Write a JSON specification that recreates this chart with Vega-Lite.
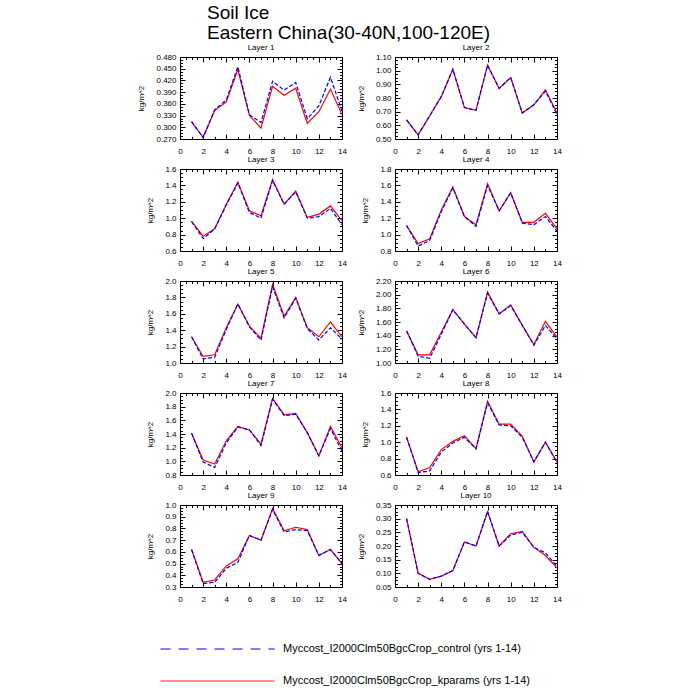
{
"$schema":"https://vega.github.io/schema/vega-lite/v6.json",
"padding":{"left":137,"top":4,"right":5,"bottom":5},
"background":"white",
"title":{"text":["Soil Ice","Eastern China(30-40N,100-120E)"],"anchor":"start","frame":"group","fontSize":19,"lineHeight":20,"dx":27,"offset":1,"font":"Liberation Sans","fontWeight":"normal","color":"black"},
"data":{"values":[
{"l":1,"x":1,"k":0.313,"c":0.315},{"l":1,"x":2,"k":0.275,"c":0.273},{"l":1,"x":3,"k":0.343,"c":0.345},{"l":1,"x":4,"k":0.365,"c":0.370},{"l":1,"x":5,"k":0.447,"c":0.455},{"l":1,"x":6,"k":0.330,"c":0.332},{"l":1,"x":7,"k":0.298,"c":0.312},{"l":1,"x":8,"k":0.405,"c":0.418},{"l":1,"x":9,"k":0.382,"c":0.395},{"l":1,"x":10,"k":0.400,"c":0.415},{"l":1,"x":11,"k":0.310,"c":0.322},{"l":1,"x":12,"k":0.340,"c":0.355},{"l":1,"x":13,"k":0.398,"c":0.428},{"l":1,"x":14,"k":0.333,"c":0.342},
{"l":2,"x":1,"k":0.64,"c":0.64},{"l":2,"x":2,"k":0.53,"c":0.53},{"l":2,"x":3,"k":0.67,"c":0.67},{"l":2,"x":4,"k":0.81,"c":0.81},{"l":2,"x":5,"k":1.01,"c":1.01},{"l":2,"x":6,"k":0.73,"c":0.73},{"l":2,"x":7,"k":0.71,"c":0.71},{"l":2,"x":8,"k":1.04,"c":1.04},{"l":2,"x":9,"k":0.87,"c":0.87},{"l":2,"x":10,"k":0.95,"c":0.95},{"l":2,"x":11,"k":0.69,"c":0.69},{"l":2,"x":12,"k":0.75,"c":0.75},{"l":2,"x":13,"k":0.86,"c":0.85},{"l":2,"x":14,"k":0.69,"c":0.68},
{"l":3,"x":1,"k":0.96,"c":0.96},{"l":3,"x":2,"k":0.78,"c":0.75},{"l":3,"x":3,"k":0.87,"c":0.87},{"l":3,"x":4,"k":1.17,"c":1.16},{"l":3,"x":5,"k":1.44,"c":1.43},{"l":3,"x":6,"k":1.09,"c":1.07},{"l":3,"x":7,"k":1.03,"c":1.00},{"l":3,"x":8,"k":1.47,"c":1.46},{"l":3,"x":9,"k":1.17,"c":1.17},{"l":3,"x":10,"k":1.33,"c":1.32},{"l":3,"x":11,"k":1.01,"c":1.00},{"l":3,"x":12,"k":1.05,"c":1.02},{"l":3,"x":13,"k":1.15,"c":1.12},{"l":3,"x":14,"k":0.97,"c":0.92},
{"l":4,"x":1,"k":1.11,"c":1.11},{"l":4,"x":2,"k":0.89,"c":0.86},{"l":4,"x":3,"k":0.95,"c":0.93},{"l":4,"x":4,"k":1.30,"c":1.28},{"l":4,"x":5,"k":1.58,"c":1.57},{"l":4,"x":6,"k":1.22,"c":1.22},{"l":4,"x":7,"k":1.12,"c":1.10},{"l":4,"x":8,"k":1.62,"c":1.60},{"l":4,"x":9,"k":1.29,"c":1.29},{"l":4,"x":10,"k":1.51,"c":1.51},{"l":4,"x":11,"k":1.15,"c":1.14},{"l":4,"x":12,"k":1.15,"c":1.12},{"l":4,"x":13,"k":1.26,"c":1.22},{"l":4,"x":14,"k":1.07,"c":1.04},
{"l":5,"x":1,"k":1.32,"c":1.32},{"l":5,"x":2,"k":1.08,"c":1.05},{"l":5,"x":3,"k":1.10,"c":1.07},{"l":5,"x":4,"k":1.43,"c":1.41},{"l":5,"x":5,"k":1.72,"c":1.72},{"l":5,"x":6,"k":1.45,"c":1.44},{"l":5,"x":7,"k":1.30,"c":1.28},{"l":5,"x":8,"k":1.96,"c":1.93},{"l":5,"x":9,"k":1.57,"c":1.55},{"l":5,"x":10,"k":1.80,"c":1.79},{"l":5,"x":11,"k":1.43,"c":1.42},{"l":5,"x":12,"k":1.32,"c":1.28},{"l":5,"x":13,"k":1.50,"c":1.43},{"l":5,"x":14,"k":1.32,"c":1.29},
{"l":6,"x":1,"k":1.47,"c":1.47},{"l":6,"x":2,"k":1.12,"c":1.10},{"l":6,"x":3,"k":1.12,"c":1.07},{"l":6,"x":4,"k":1.45,"c":1.42},{"l":6,"x":5,"k":1.78,"c":1.78},{"l":6,"x":6,"k":1.57,"c":1.57},{"l":6,"x":7,"k":1.37,"c":1.37},{"l":6,"x":8,"k":2.04,"c":2.02},{"l":6,"x":9,"k":1.72,"c":1.72},{"l":6,"x":10,"k":1.85,"c":1.84},{"l":6,"x":11,"k":1.55,"c":1.55},{"l":6,"x":12,"k":1.27,"c":1.26},{"l":6,"x":13,"k":1.61,"c":1.55},{"l":6,"x":14,"k":1.38,"c":1.35},
{"l":7,"x":1,"k":1.41,"c":1.41},{"l":7,"x":2,"k":1.02,"c":0.99},{"l":7,"x":3,"k":0.96,"c":0.91},{"l":7,"x":4,"k":1.30,"c":1.27},{"l":7,"x":5,"k":1.51,"c":1.50},{"l":7,"x":6,"k":1.46,"c":1.46},{"l":7,"x":7,"k":1.25,"c":1.23},{"l":7,"x":8,"k":1.92,"c":1.91},{"l":7,"x":9,"k":1.68,"c":1.67},{"l":7,"x":10,"k":1.70,"c":1.69},{"l":7,"x":11,"k":1.42,"c":1.42},{"l":7,"x":12,"k":1.08,"c":1.08},{"l":7,"x":13,"k":1.51,"c":1.48},{"l":7,"x":14,"k":1.20,"c":1.15},
{"l":8,"x":1,"k":1.06,"c":1.06},{"l":8,"x":2,"k":0.64,"c":0.63},{"l":8,"x":3,"k":0.69,"c":0.65},{"l":8,"x":4,"k":0.91,"c":0.88},{"l":8,"x":5,"k":1.01,"c":0.99},{"l":8,"x":6,"k":1.08,"c":1.06},{"l":8,"x":7,"k":0.92,"c":0.92},{"l":8,"x":8,"k":1.50,"c":1.48},{"l":8,"x":9,"k":1.22,"c":1.21},{"l":8,"x":10,"k":1.22,"c":1.20},{"l":8,"x":11,"k":1.07,"c":1.06},{"l":8,"x":12,"k":0.76,"c":0.76},{"l":8,"x":13,"k":1.00,"c":1.00},{"l":8,"x":14,"k":0.76,"c":0.75},
{"l":9,"x":1,"k":0.62,"c":0.62},{"l":9,"x":2,"k":0.34,"c":0.33},{"l":9,"x":3,"k":0.36,"c":0.34},{"l":9,"x":4,"k":0.48,"c":0.46},{"l":9,"x":5,"k":0.54,"c":0.51},{"l":9,"x":6,"k":0.74,"c":0.74},{"l":9,"x":7,"k":0.70,"c":0.70},{"l":9,"x":8,"k":0.97,"c":0.96},{"l":9,"x":9,"k":0.78,"c":0.77},{"l":9,"x":10,"k":0.81,"c":0.79},{"l":9,"x":11,"k":0.79,"c":0.78},{"l":9,"x":12,"k":0.57,"c":0.57},{"l":9,"x":13,"k":0.62,"c":0.62},{"l":9,"x":14,"k":0.50,"c":0.50},
{"l":10,"x":1,"k":0.30,"c":0.30},{"l":10,"x":2,"k":0.10,"c":0.10},{"l":10,"x":3,"k":0.078,"c":0.078},{"l":10,"x":4,"k":0.09,"c":0.09},{"l":10,"x":5,"k":0.11,"c":0.11},{"l":10,"x":6,"k":0.215,"c":0.215},{"l":10,"x":7,"k":0.20,"c":0.20},{"l":10,"x":8,"k":0.325,"c":0.327},{"l":10,"x":9,"k":0.20,"c":0.20},{"l":10,"x":10,"k":0.245,"c":0.24},{"l":10,"x":11,"k":0.253,"c":0.25},{"l":10,"x":12,"k":0.195,"c":0.195},{"l":10,"x":13,"k":0.165,"c":0.175},{"l":10,"x":14,"k":0.12,"c":0.125}
]},
"columns":2,
"bounds":"flush",
"spacing":{"row":30,"column":53},
"concat":[
{"title":"Layer 1","width":162,"height":82,"transform":[{"filter":"datum.l==1"},{"fold":["k","c"],"as":["s","v"]}],
 "encoding":{"color":{"field":"s","type":"nominal","scale":{"domain":["c","k"],"range":["#0000ff","#ff0000"]},
   "legend":{"orient":"none","legendX":-20,"legendY":586,"title":null,"symbolType":"stroke","symbolSize":12996,"symbolStrokeWidth":1,"clipHeight":12,"rowPadding":20,"labelFontSize":11,"labelFont":"Liberation Sans","labelColor":"black","labelOffset":8,"labelLimit":400,
     "labelExpr":"'Myccost_I2000Clm50BgcCrop_' + (datum.label=='c' ? 'control' : 'kparams') + ' (yrs 1-14)'",
     "encode":{"symbols":{"update":{"strokeDash":{"signal":"datum.value=='c' ? [10,8] : [1,0]"}}}}}}},
 "layer":[
  {"transform":[{"filter":"datum.s=='k'"}],"mark":{"type":"line","strokeWidth":1.2},
   "encoding":{"x":{"field":"x","type":"quantitative","scale":{"domain":[0,14],"nice":false},"axis":{"orient":"bottom","values":[0,0.5,1,1.5,2,2.5,3,3.5,4,4.5,5,5.5,6,6.5,7,7.5,8,8.5,9,9.5,10,10.5,11,11.5,12,12.5,13,13.5,14],"format":"d","title":null,"labelExpr":"abs(datum.value/2-round(datum.value/2))<0.001 ? datum.label : ''","tickSize":{"condition":{"test":"abs(datum.value/2-round(datum.value/2))<0.001","value":-5},"value":-2.5}}},
    "y":{"field":"v","type":"quantitative","scale":{"domain":[0.27,0.48],"nice":false,"zero":false},"axis":{"orient":"left","values":[0.27,0.2775,0.285,0.2925,0.3,0.3075,0.315,0.3225,0.33,0.3375,0.345,0.3525,0.36,0.3675,0.375,0.3825,0.39,0.3975,0.405,0.4125,0.42,0.4275,0.435,0.4425,0.45,0.4575,0.465,0.4725,0.48],"format":".3f","title":"kg/m^2","labelExpr":"abs(datum.value/0.03-round(datum.value/0.03))<0.001 ? datum.label : ''","tickSize":{"condition":{"test":"abs(datum.value/0.03-round(datum.value/0.03))<0.001","value":-5},"value":-2.5}}}}},
  {"transform":[{"filter":"datum.s=='c'"}],"mark":{"type":"line","strokeWidth":1.2,"strokeDash":[4,2]},
   "encoding":{"x":{"field":"x","type":"quantitative","scale":{"domain":[0,14],"nice":false},"axis":{"orient":"top","values":[0,0.5,1,1.5,2,2.5,3,3.5,4,4.5,5,5.5,6,6.5,7,7.5,8,8.5,9,9.5,10,10.5,11,11.5,12,12.5,13,13.5,14],"labels":false,"title":null,"tickSize":{"condition":{"test":"abs(datum.value/2-round(datum.value/2))<0.001","value":-5},"value":-2.5}}},
    "y":{"field":"v","type":"quantitative","scale":{"domain":[0.27,0.48],"nice":false,"zero":false},"axis":{"orient":"right","values":[0.27,0.2775,0.285,0.2925,0.3,0.3075,0.315,0.3225,0.33,0.3375,0.345,0.3525,0.36,0.3675,0.375,0.3825,0.39,0.3975,0.405,0.4125,0.42,0.4275,0.435,0.4425,0.45,0.4575,0.465,0.4725,0.48],"labels":false,"title":null,"tickSize":{"condition":{"test":"abs(datum.value/0.03-round(datum.value/0.03))<0.001","value":-5},"value":-2.5}}}}}
 ],"resolve":{"axis":{"x":"independent","y":"independent"}}},
{"title":"Layer 2","width":162,"height":82,"transform":[{"filter":"datum.l==2"},{"fold":["k","c"],"as":["s","v"]}],
 "encoding":{"color":{"field":"s","type":"nominal","scale":{"domain":["c","k"],"range":["#0000ff","#ff0000"]},"legend":null}},
 "layer":[
  {"transform":[{"filter":"datum.s=='k'"}],"mark":{"type":"line","strokeWidth":1.2},
   "encoding":{"x":{"field":"x","type":"quantitative","scale":{"domain":[0,14],"nice":false},"axis":{"orient":"bottom","values":[0,0.5,1,1.5,2,2.5,3,3.5,4,4.5,5,5.5,6,6.5,7,7.5,8,8.5,9,9.5,10,10.5,11,11.5,12,12.5,13,13.5,14],"format":"d","title":null,"labelExpr":"abs(datum.value/2-round(datum.value/2))<0.001 ? datum.label : ''","tickSize":{"condition":{"test":"abs(datum.value/2-round(datum.value/2))<0.001","value":-5},"value":-2.5}}},
    "y":{"field":"v","type":"quantitative","scale":{"domain":[0.5,1.1],"nice":false,"zero":false},"axis":{"orient":"left","values":[0.5,0.525,0.55,0.575,0.6,0.625,0.65,0.675,0.7,0.725,0.75,0.775,0.8,0.825,0.85,0.875,0.9,0.925,0.95,0.975,1.0,1.025,1.05,1.075,1.1],"format":".2f","title":"kg/m^2","labelExpr":"abs(datum.value/0.1-round(datum.value/0.1))<0.001 ? datum.label : ''","tickSize":{"condition":{"test":"abs(datum.value/0.1-round(datum.value/0.1))<0.001","value":-5},"value":-2.5}}}}},
  {"transform":[{"filter":"datum.s=='c'"}],"mark":{"type":"line","strokeWidth":1.2,"strokeDash":[4,2]},
   "encoding":{"x":{"field":"x","type":"quantitative","scale":{"domain":[0,14],"nice":false},"axis":{"orient":"top","values":[0,0.5,1,1.5,2,2.5,3,3.5,4,4.5,5,5.5,6,6.5,7,7.5,8,8.5,9,9.5,10,10.5,11,11.5,12,12.5,13,13.5,14],"labels":false,"title":null,"tickSize":{"condition":{"test":"abs(datum.value/2-round(datum.value/2))<0.001","value":-5},"value":-2.5}}},
    "y":{"field":"v","type":"quantitative","scale":{"domain":[0.5,1.1],"nice":false,"zero":false},"axis":{"orient":"right","values":[0.5,0.525,0.55,0.575,0.6,0.625,0.65,0.675,0.7,0.725,0.75,0.775,0.8,0.825,0.85,0.875,0.9,0.925,0.95,0.975,1.0,1.025,1.05,1.075,1.1],"labels":false,"title":null,"tickSize":{"condition":{"test":"abs(datum.value/0.1-round(datum.value/0.1))<0.001","value":-5},"value":-2.5}}}}}
 ],"resolve":{"axis":{"x":"independent","y":"independent"}}},
{"title":"Layer 3","width":162,"height":82,"transform":[{"filter":"datum.l==3"},{"fold":["k","c"],"as":["s","v"]}],
 "encoding":{"color":{"field":"s","type":"nominal","scale":{"domain":["c","k"],"range":["#0000ff","#ff0000"]},"legend":null}},
 "layer":[
  {"transform":[{"filter":"datum.s=='k'"}],"mark":{"type":"line","strokeWidth":1.2},
   "encoding":{"x":{"field":"x","type":"quantitative","scale":{"domain":[0,14],"nice":false},"axis":{"orient":"bottom","values":[0,0.5,1,1.5,2,2.5,3,3.5,4,4.5,5,5.5,6,6.5,7,7.5,8,8.5,9,9.5,10,10.5,11,11.5,12,12.5,13,13.5,14],"format":"d","title":null,"labelExpr":"abs(datum.value/2-round(datum.value/2))<0.001 ? datum.label : ''","tickSize":{"condition":{"test":"abs(datum.value/2-round(datum.value/2))<0.001","value":-5},"value":-2.5}}},
    "y":{"field":"v","type":"quantitative","scale":{"domain":[0.6,1.6],"nice":false,"zero":false},"axis":{"orient":"left","values":[0.6,0.65,0.7,0.75,0.8,0.85,0.9,0.95,1.0,1.05,1.1,1.15,1.2,1.25,1.3,1.35,1.4,1.45,1.5,1.55,1.6],"format":".1f","title":"kg/m^2","labelExpr":"abs(datum.value/0.2-round(datum.value/0.2))<0.001 ? datum.label : ''","tickSize":{"condition":{"test":"abs(datum.value/0.2-round(datum.value/0.2))<0.001","value":-5},"value":-2.5}}}}},
  {"transform":[{"filter":"datum.s=='c'"}],"mark":{"type":"line","strokeWidth":1.2,"strokeDash":[4,2]},
   "encoding":{"x":{"field":"x","type":"quantitative","scale":{"domain":[0,14],"nice":false},"axis":{"orient":"top","values":[0,0.5,1,1.5,2,2.5,3,3.5,4,4.5,5,5.5,6,6.5,7,7.5,8,8.5,9,9.5,10,10.5,11,11.5,12,12.5,13,13.5,14],"labels":false,"title":null,"tickSize":{"condition":{"test":"abs(datum.value/2-round(datum.value/2))<0.001","value":-5},"value":-2.5}}},
    "y":{"field":"v","type":"quantitative","scale":{"domain":[0.6,1.6],"nice":false,"zero":false},"axis":{"orient":"right","values":[0.6,0.65,0.7,0.75,0.8,0.85,0.9,0.95,1.0,1.05,1.1,1.15,1.2,1.25,1.3,1.35,1.4,1.45,1.5,1.55,1.6],"labels":false,"title":null,"tickSize":{"condition":{"test":"abs(datum.value/0.2-round(datum.value/0.2))<0.001","value":-5},"value":-2.5}}}}}
 ],"resolve":{"axis":{"x":"independent","y":"independent"}}},
{"title":"Layer 4","width":162,"height":82,"transform":[{"filter":"datum.l==4"},{"fold":["k","c"],"as":["s","v"]}],
 "encoding":{"color":{"field":"s","type":"nominal","scale":{"domain":["c","k"],"range":["#0000ff","#ff0000"]},"legend":null}},
 "layer":[
  {"transform":[{"filter":"datum.s=='k'"}],"mark":{"type":"line","strokeWidth":1.2},
   "encoding":{"x":{"field":"x","type":"quantitative","scale":{"domain":[0,14],"nice":false},"axis":{"orient":"bottom","values":[0,0.5,1,1.5,2,2.5,3,3.5,4,4.5,5,5.5,6,6.5,7,7.5,8,8.5,9,9.5,10,10.5,11,11.5,12,12.5,13,13.5,14],"format":"d","title":null,"labelExpr":"abs(datum.value/2-round(datum.value/2))<0.001 ? datum.label : ''","tickSize":{"condition":{"test":"abs(datum.value/2-round(datum.value/2))<0.001","value":-5},"value":-2.5}}},
    "y":{"field":"v","type":"quantitative","scale":{"domain":[0.8,1.8],"nice":false,"zero":false},"axis":{"orient":"left","values":[0.8,0.85,0.9,0.95,1.0,1.05,1.1,1.15,1.2,1.25,1.3,1.35,1.4,1.45,1.5,1.55,1.6,1.65,1.7,1.75,1.8],"format":".1f","title":"kg/m^2","labelExpr":"abs(datum.value/0.2-round(datum.value/0.2))<0.001 ? datum.label : ''","tickSize":{"condition":{"test":"abs(datum.value/0.2-round(datum.value/0.2))<0.001","value":-5},"value":-2.5}}}}},
  {"transform":[{"filter":"datum.s=='c'"}],"mark":{"type":"line","strokeWidth":1.2,"strokeDash":[4,2]},
   "encoding":{"x":{"field":"x","type":"quantitative","scale":{"domain":[0,14],"nice":false},"axis":{"orient":"top","values":[0,0.5,1,1.5,2,2.5,3,3.5,4,4.5,5,5.5,6,6.5,7,7.5,8,8.5,9,9.5,10,10.5,11,11.5,12,12.5,13,13.5,14],"labels":false,"title":null,"tickSize":{"condition":{"test":"abs(datum.value/2-round(datum.value/2))<0.001","value":-5},"value":-2.5}}},
    "y":{"field":"v","type":"quantitative","scale":{"domain":[0.8,1.8],"nice":false,"zero":false},"axis":{"orient":"right","values":[0.8,0.85,0.9,0.95,1.0,1.05,1.1,1.15,1.2,1.25,1.3,1.35,1.4,1.45,1.5,1.55,1.6,1.65,1.7,1.75,1.8],"labels":false,"title":null,"tickSize":{"condition":{"test":"abs(datum.value/0.2-round(datum.value/0.2))<0.001","value":-5},"value":-2.5}}}}}
 ],"resolve":{"axis":{"x":"independent","y":"independent"}}},
{"title":"Layer 5","width":162,"height":82,"transform":[{"filter":"datum.l==5"},{"fold":["k","c"],"as":["s","v"]}],
 "encoding":{"color":{"field":"s","type":"nominal","scale":{"domain":["c","k"],"range":["#0000ff","#ff0000"]},"legend":null}},
 "layer":[
  {"transform":[{"filter":"datum.s=='k'"}],"mark":{"type":"line","strokeWidth":1.2},
   "encoding":{"x":{"field":"x","type":"quantitative","scale":{"domain":[0,14],"nice":false},"axis":{"orient":"bottom","values":[0,0.5,1,1.5,2,2.5,3,3.5,4,4.5,5,5.5,6,6.5,7,7.5,8,8.5,9,9.5,10,10.5,11,11.5,12,12.5,13,13.5,14],"format":"d","title":null,"labelExpr":"abs(datum.value/2-round(datum.value/2))<0.001 ? datum.label : ''","tickSize":{"condition":{"test":"abs(datum.value/2-round(datum.value/2))<0.001","value":-5},"value":-2.5}}},
    "y":{"field":"v","type":"quantitative","scale":{"domain":[1.0,2.0],"nice":false,"zero":false},"axis":{"orient":"left","values":[1.0,1.05,1.1,1.15,1.2,1.25,1.3,1.35,1.4,1.45,1.5,1.55,1.6,1.65,1.7,1.75,1.8,1.85,1.9,1.95,2.0],"format":".1f","title":"kg/m^2","labelExpr":"abs(datum.value/0.2-round(datum.value/0.2))<0.001 ? datum.label : ''","tickSize":{"condition":{"test":"abs(datum.value/0.2-round(datum.value/0.2))<0.001","value":-5},"value":-2.5}}}}},
  {"transform":[{"filter":"datum.s=='c'"}],"mark":{"type":"line","strokeWidth":1.2,"strokeDash":[4,2]},
   "encoding":{"x":{"field":"x","type":"quantitative","scale":{"domain":[0,14],"nice":false},"axis":{"orient":"top","values":[0,0.5,1,1.5,2,2.5,3,3.5,4,4.5,5,5.5,6,6.5,7,7.5,8,8.5,9,9.5,10,10.5,11,11.5,12,12.5,13,13.5,14],"labels":false,"title":null,"tickSize":{"condition":{"test":"abs(datum.value/2-round(datum.value/2))<0.001","value":-5},"value":-2.5}}},
    "y":{"field":"v","type":"quantitative","scale":{"domain":[1.0,2.0],"nice":false,"zero":false},"axis":{"orient":"right","values":[1.0,1.05,1.1,1.15,1.2,1.25,1.3,1.35,1.4,1.45,1.5,1.55,1.6,1.65,1.7,1.75,1.8,1.85,1.9,1.95,2.0],"labels":false,"title":null,"tickSize":{"condition":{"test":"abs(datum.value/0.2-round(datum.value/0.2))<0.001","value":-5},"value":-2.5}}}}}
 ],"resolve":{"axis":{"x":"independent","y":"independent"}}},
{"title":"Layer 6","width":162,"height":82,"transform":[{"filter":"datum.l==6"},{"fold":["k","c"],"as":["s","v"]}],
 "encoding":{"color":{"field":"s","type":"nominal","scale":{"domain":["c","k"],"range":["#0000ff","#ff0000"]},"legend":null}},
 "layer":[
  {"transform":[{"filter":"datum.s=='k'"}],"mark":{"type":"line","strokeWidth":1.2},
   "encoding":{"x":{"field":"x","type":"quantitative","scale":{"domain":[0,14],"nice":false},"axis":{"orient":"bottom","values":[0,0.5,1,1.5,2,2.5,3,3.5,4,4.5,5,5.5,6,6.5,7,7.5,8,8.5,9,9.5,10,10.5,11,11.5,12,12.5,13,13.5,14],"format":"d","title":null,"labelExpr":"abs(datum.value/2-round(datum.value/2))<0.001 ? datum.label : ''","tickSize":{"condition":{"test":"abs(datum.value/2-round(datum.value/2))<0.001","value":-5},"value":-2.5}}},
    "y":{"field":"v","type":"quantitative","scale":{"domain":[1.0,2.2],"nice":false,"zero":false},"axis":{"orient":"left","values":[1.0,1.05,1.1,1.15,1.2,1.25,1.3,1.35,1.4,1.45,1.5,1.55,1.6,1.65,1.7,1.75,1.8,1.85,1.9,1.95,2.0,2.05,2.1,2.15,2.2],"format":".2f","title":"kg/m^2","labelExpr":"abs(datum.value/0.2-round(datum.value/0.2))<0.001 ? datum.label : ''","tickSize":{"condition":{"test":"abs(datum.value/0.2-round(datum.value/0.2))<0.001","value":-5},"value":-2.5}}}}},
  {"transform":[{"filter":"datum.s=='c'"}],"mark":{"type":"line","strokeWidth":1.2,"strokeDash":[4,2]},
   "encoding":{"x":{"field":"x","type":"quantitative","scale":{"domain":[0,14],"nice":false},"axis":{"orient":"top","values":[0,0.5,1,1.5,2,2.5,3,3.5,4,4.5,5,5.5,6,6.5,7,7.5,8,8.5,9,9.5,10,10.5,11,11.5,12,12.5,13,13.5,14],"labels":false,"title":null,"tickSize":{"condition":{"test":"abs(datum.value/2-round(datum.value/2))<0.001","value":-5},"value":-2.5}}},
    "y":{"field":"v","type":"quantitative","scale":{"domain":[1.0,2.2],"nice":false,"zero":false},"axis":{"orient":"right","values":[1.0,1.05,1.1,1.15,1.2,1.25,1.3,1.35,1.4,1.45,1.5,1.55,1.6,1.65,1.7,1.75,1.8,1.85,1.9,1.95,2.0,2.05,2.1,2.15,2.2],"labels":false,"title":null,"tickSize":{"condition":{"test":"abs(datum.value/0.2-round(datum.value/0.2))<0.001","value":-5},"value":-2.5}}}}}
 ],"resolve":{"axis":{"x":"independent","y":"independent"}}},
{"title":"Layer 7","width":162,"height":82,"transform":[{"filter":"datum.l==7"},{"fold":["k","c"],"as":["s","v"]}],
 "encoding":{"color":{"field":"s","type":"nominal","scale":{"domain":["c","k"],"range":["#0000ff","#ff0000"]},"legend":null}},
 "layer":[
  {"transform":[{"filter":"datum.s=='k'"}],"mark":{"type":"line","strokeWidth":1.2},
   "encoding":{"x":{"field":"x","type":"quantitative","scale":{"domain":[0,14],"nice":false},"axis":{"orient":"bottom","values":[0,0.5,1,1.5,2,2.5,3,3.5,4,4.5,5,5.5,6,6.5,7,7.5,8,8.5,9,9.5,10,10.5,11,11.5,12,12.5,13,13.5,14],"format":"d","title":null,"labelExpr":"abs(datum.value/2-round(datum.value/2))<0.001 ? datum.label : ''","tickSize":{"condition":{"test":"abs(datum.value/2-round(datum.value/2))<0.001","value":-5},"value":-2.5}}},
    "y":{"field":"v","type":"quantitative","scale":{"domain":[0.8,2.0],"nice":false,"zero":false},"axis":{"orient":"left","values":[0.8,0.85,0.9,0.95,1.0,1.05,1.1,1.15,1.2,1.25,1.3,1.35,1.4,1.45,1.5,1.55,1.6,1.65,1.7,1.75,1.8,1.85,1.9,1.95,2.0],"format":".1f","title":"kg/m^2","labelExpr":"abs(datum.value/0.2-round(datum.value/0.2))<0.001 ? datum.label : ''","tickSize":{"condition":{"test":"abs(datum.value/0.2-round(datum.value/0.2))<0.001","value":-5},"value":-2.5}}}}},
  {"transform":[{"filter":"datum.s=='c'"}],"mark":{"type":"line","strokeWidth":1.2,"strokeDash":[4,2]},
   "encoding":{"x":{"field":"x","type":"quantitative","scale":{"domain":[0,14],"nice":false},"axis":{"orient":"top","values":[0,0.5,1,1.5,2,2.5,3,3.5,4,4.5,5,5.5,6,6.5,7,7.5,8,8.5,9,9.5,10,10.5,11,11.5,12,12.5,13,13.5,14],"labels":false,"title":null,"tickSize":{"condition":{"test":"abs(datum.value/2-round(datum.value/2))<0.001","value":-5},"value":-2.5}}},
    "y":{"field":"v","type":"quantitative","scale":{"domain":[0.8,2.0],"nice":false,"zero":false},"axis":{"orient":"right","values":[0.8,0.85,0.9,0.95,1.0,1.05,1.1,1.15,1.2,1.25,1.3,1.35,1.4,1.45,1.5,1.55,1.6,1.65,1.7,1.75,1.8,1.85,1.9,1.95,2.0],"labels":false,"title":null,"tickSize":{"condition":{"test":"abs(datum.value/0.2-round(datum.value/0.2))<0.001","value":-5},"value":-2.5}}}}}
 ],"resolve":{"axis":{"x":"independent","y":"independent"}}},
{"title":"Layer 8","width":162,"height":82,"transform":[{"filter":"datum.l==8"},{"fold":["k","c"],"as":["s","v"]}],
 "encoding":{"color":{"field":"s","type":"nominal","scale":{"domain":["c","k"],"range":["#0000ff","#ff0000"]},"legend":null}},
 "layer":[
  {"transform":[{"filter":"datum.s=='k'"}],"mark":{"type":"line","strokeWidth":1.2},
   "encoding":{"x":{"field":"x","type":"quantitative","scale":{"domain":[0,14],"nice":false},"axis":{"orient":"bottom","values":[0,0.5,1,1.5,2,2.5,3,3.5,4,4.5,5,5.5,6,6.5,7,7.5,8,8.5,9,9.5,10,10.5,11,11.5,12,12.5,13,13.5,14],"format":"d","title":null,"labelExpr":"abs(datum.value/2-round(datum.value/2))<0.001 ? datum.label : ''","tickSize":{"condition":{"test":"abs(datum.value/2-round(datum.value/2))<0.001","value":-5},"value":-2.5}}},
    "y":{"field":"v","type":"quantitative","scale":{"domain":[0.6,1.6],"nice":false,"zero":false},"axis":{"orient":"left","values":[0.6,0.65,0.7,0.75,0.8,0.85,0.9,0.95,1.0,1.05,1.1,1.15,1.2,1.25,1.3,1.35,1.4,1.45,1.5,1.55,1.6],"format":".1f","title":"kg/m^2","labelExpr":"abs(datum.value/0.2-round(datum.value/0.2))<0.001 ? datum.label : ''","tickSize":{"condition":{"test":"abs(datum.value/0.2-round(datum.value/0.2))<0.001","value":-5},"value":-2.5}}}}},
  {"transform":[{"filter":"datum.s=='c'"}],"mark":{"type":"line","strokeWidth":1.2,"strokeDash":[4,2]},
   "encoding":{"x":{"field":"x","type":"quantitative","scale":{"domain":[0,14],"nice":false},"axis":{"orient":"top","values":[0,0.5,1,1.5,2,2.5,3,3.5,4,4.5,5,5.5,6,6.5,7,7.5,8,8.5,9,9.5,10,10.5,11,11.5,12,12.5,13,13.5,14],"labels":false,"title":null,"tickSize":{"condition":{"test":"abs(datum.value/2-round(datum.value/2))<0.001","value":-5},"value":-2.5}}},
    "y":{"field":"v","type":"quantitative","scale":{"domain":[0.6,1.6],"nice":false,"zero":false},"axis":{"orient":"right","values":[0.6,0.65,0.7,0.75,0.8,0.85,0.9,0.95,1.0,1.05,1.1,1.15,1.2,1.25,1.3,1.35,1.4,1.45,1.5,1.55,1.6],"labels":false,"title":null,"tickSize":{"condition":{"test":"abs(datum.value/0.2-round(datum.value/0.2))<0.001","value":-5},"value":-2.5}}}}}
 ],"resolve":{"axis":{"x":"independent","y":"independent"}}},
{"title":"Layer 9","width":162,"height":82,"transform":[{"filter":"datum.l==9"},{"fold":["k","c"],"as":["s","v"]}],
 "encoding":{"color":{"field":"s","type":"nominal","scale":{"domain":["c","k"],"range":["#0000ff","#ff0000"]},"legend":null}},
 "layer":[
  {"transform":[{"filter":"datum.s=='k'"}],"mark":{"type":"line","strokeWidth":1.2},
   "encoding":{"x":{"field":"x","type":"quantitative","scale":{"domain":[0,14],"nice":false},"axis":{"orient":"bottom","values":[0,0.5,1,1.5,2,2.5,3,3.5,4,4.5,5,5.5,6,6.5,7,7.5,8,8.5,9,9.5,10,10.5,11,11.5,12,12.5,13,13.5,14],"format":"d","title":null,"labelExpr":"abs(datum.value/2-round(datum.value/2))<0.001 ? datum.label : ''","tickSize":{"condition":{"test":"abs(datum.value/2-round(datum.value/2))<0.001","value":-5},"value":-2.5}}},
    "y":{"field":"v","type":"quantitative","scale":{"domain":[0.3,1.0],"nice":false,"zero":false},"axis":{"orient":"left","values":[0.3,0.325,0.35,0.375,0.4,0.425,0.45,0.475,0.5,0.525,0.55,0.575,0.6,0.625,0.65,0.675,0.7,0.725,0.75,0.775,0.8,0.825,0.85,0.875,0.9,0.925,0.95,0.975,1.0],"format":".1f","title":"kg/m^2","labelExpr":"abs(datum.value/0.1-round(datum.value/0.1))<0.001 ? datum.label : ''","tickSize":{"condition":{"test":"abs(datum.value/0.1-round(datum.value/0.1))<0.001","value":-5},"value":-2.5}}}}},
  {"transform":[{"filter":"datum.s=='c'"}],"mark":{"type":"line","strokeWidth":1.2,"strokeDash":[4,2]},
   "encoding":{"x":{"field":"x","type":"quantitative","scale":{"domain":[0,14],"nice":false},"axis":{"orient":"top","values":[0,0.5,1,1.5,2,2.5,3,3.5,4,4.5,5,5.5,6,6.5,7,7.5,8,8.5,9,9.5,10,10.5,11,11.5,12,12.5,13,13.5,14],"labels":false,"title":null,"tickSize":{"condition":{"test":"abs(datum.value/2-round(datum.value/2))<0.001","value":-5},"value":-2.5}}},
    "y":{"field":"v","type":"quantitative","scale":{"domain":[0.3,1.0],"nice":false,"zero":false},"axis":{"orient":"right","values":[0.3,0.325,0.35,0.375,0.4,0.425,0.45,0.475,0.5,0.525,0.55,0.575,0.6,0.625,0.65,0.675,0.7,0.725,0.75,0.775,0.8,0.825,0.85,0.875,0.9,0.925,0.95,0.975,1.0],"labels":false,"title":null,"tickSize":{"condition":{"test":"abs(datum.value/0.1-round(datum.value/0.1))<0.001","value":-5},"value":-2.5}}}}}
 ],"resolve":{"axis":{"x":"independent","y":"independent"}}},
{"title":"Layer 10","width":162,"height":82,"transform":[{"filter":"datum.l==10"},{"fold":["k","c"],"as":["s","v"]}],
 "encoding":{"color":{"field":"s","type":"nominal","scale":{"domain":["c","k"],"range":["#0000ff","#ff0000"]},"legend":null}},
 "layer":[
  {"transform":[{"filter":"datum.s=='k'"}],"mark":{"type":"line","strokeWidth":1.2},
   "encoding":{"x":{"field":"x","type":"quantitative","scale":{"domain":[0,14],"nice":false},"axis":{"orient":"bottom","values":[0,0.5,1,1.5,2,2.5,3,3.5,4,4.5,5,5.5,6,6.5,7,7.5,8,8.5,9,9.5,10,10.5,11,11.5,12,12.5,13,13.5,14],"format":"d","title":null,"labelExpr":"abs(datum.value/2-round(datum.value/2))<0.001 ? datum.label : ''","tickSize":{"condition":{"test":"abs(datum.value/2-round(datum.value/2))<0.001","value":-5},"value":-2.5}}},
    "y":{"field":"v","type":"quantitative","scale":{"domain":[0.05,0.35],"nice":false,"zero":false},"axis":{"orient":"left","values":[0.05,0.0625,0.075,0.0875,0.1,0.1125,0.125,0.1375,0.15,0.1625,0.175,0.1875,0.2,0.2125,0.225,0.2375,0.25,0.2625,0.275,0.2875,0.3,0.3125,0.325,0.3375,0.35],"format":".2f","title":"kg/m^2","labelExpr":"abs(datum.value/0.05-round(datum.value/0.05))<0.001 ? datum.label : ''","tickSize":{"condition":{"test":"abs(datum.value/0.05-round(datum.value/0.05))<0.001","value":-5},"value":-2.5}}}}},
  {"transform":[{"filter":"datum.s=='c'"}],"mark":{"type":"line","strokeWidth":1.2,"strokeDash":[4,2]},
   "encoding":{"x":{"field":"x","type":"quantitative","scale":{"domain":[0,14],"nice":false},"axis":{"orient":"top","values":[0,0.5,1,1.5,2,2.5,3,3.5,4,4.5,5,5.5,6,6.5,7,7.5,8,8.5,9,9.5,10,10.5,11,11.5,12,12.5,13,13.5,14],"labels":false,"title":null,"tickSize":{"condition":{"test":"abs(datum.value/2-round(datum.value/2))<0.001","value":-5},"value":-2.5}}},
    "y":{"field":"v","type":"quantitative","scale":{"domain":[0.05,0.35],"nice":false,"zero":false},"axis":{"orient":"right","values":[0.05,0.0625,0.075,0.0875,0.1,0.1125,0.125,0.1375,0.15,0.1625,0.175,0.1875,0.2,0.2125,0.225,0.2375,0.25,0.2625,0.275,0.2875,0.3,0.3125,0.325,0.3375,0.35],"labels":false,"title":null,"tickSize":{"condition":{"test":"abs(datum.value/0.05-round(datum.value/0.05))<0.001","value":-5},"value":-2.5}}}}}
 ],"resolve":{"axis":{"x":"independent","y":"independent"}}}
],
"config":{
 "view":{"stroke":null},
 "font":"Liberation Sans",
 "title":{"fontSize":8,"fontWeight":"normal","font":"Liberation Sans","color":"black","offset":1},
 "axis":{"grid":false,"domainColor":"black","domainWidth":1,"tickColor":"black","tickWidth":1,"labelColor":"black","labelFont":"Liberation Sans","labelFontSize":8,"titleFont":"Liberation Sans","titleFontSize":8,"titleFontWeight":"normal","titleColor":"black","titlePadding":10,"labelFlush":false,"labelOverlap":false},
 "axisX":{"labelPadding":13},
 "axisY":{"labelPadding":9}
}
}
